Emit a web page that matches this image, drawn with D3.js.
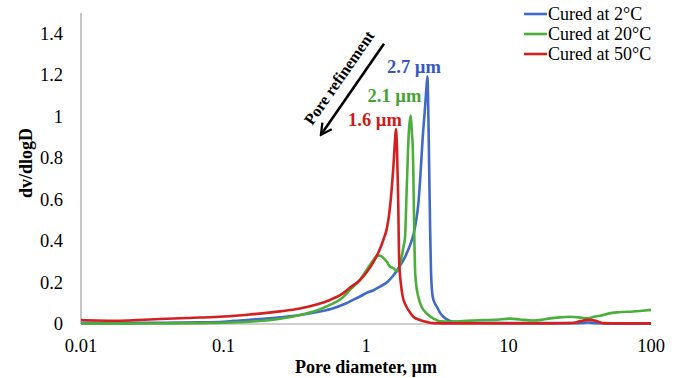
<!DOCTYPE html>
<html>
<head>
<meta charset="utf-8">
<script src="https://cdn.jsdelivr.net/npm/d3@7"></script>
<style>
  html, body { margin: 0; padding: 0; background: #fff; }
  svg { display: block; }
  text { font-family: "Liberation Serif", "Times New Roman", serif; fill: #000; }
</style>
</head>
<body>
<svg id="chart" width="678" height="378"></svg>
<script>
// ---- Data ----
const seriesNames = ["Cured at 2°C", "Cured at 20°C", "Cured at 50°C"];
const seriesColors = ["#4169C8", "#4CAF3C", "#D42020"];

const blueD = [0.01, 0.02, 0.035, 0.05, 0.068, 0.1, 0.153, 0.25, 0.344, 0.475, 0.59, 0.7, 0.81, 0.92, 1.01, 1.13, 1.25, 1.4, 1.56, 1.73, 1.9, 2.05, 2.15, 2.25, 2.33, 2.39, 2.45, 2.5, 2.58, 2.65, 2.7, 2.74, 2.78, 2.82, 2.86, 2.94, 3.04, 3.14, 3.3, 3.49, 3.89, 4.3, 4.8, 6, 10, 20, 30, 36, 42, 50, 100];
const blueV = [0.006, 0.006, 0.006, 0.007, 0.008, 0.011, 0.02, 0.032, 0.043, 0.06, 0.076, 0.095, 0.116, 0.135, 0.15, 0.163, 0.18, 0.2, 0.235, 0.28, 0.33, 0.385, 0.43, 0.5, 0.58, 0.68, 0.8, 0.9, 1.02, 1.13, 1.195, 1.0, 0.72, 0.45, 0.25, 0.13, 0.1, 0.084, 0.055, 0.035, 0.015, 0.01, 0.007, 0.006, 0.005, 0.004, 0.004, 0.007, 0.004, 0.002, 0.002];

const greenD = [0.01, 0.02, 0.04, 0.068, 0.1, 0.153, 0.25, 0.344, 0.45, 0.559, 0.68, 0.77, 0.9, 1.01, 1.13, 1.2, 1.25, 1.32, 1.4, 1.47, 1.55, 1.62, 1.66, 1.72, 1.78, 1.83, 1.88, 1.92, 2.0, 2.06, 2.1, 2.13, 2.15, 2.18, 2.21, 2.27, 2.33, 2.45, 2.67, 3.0, 3.3, 3.89, 5, 6.6, 8, 10.2, 12, 14.8, 17, 19.6, 23, 27, 31, 35.5, 40, 43.9, 50, 57.5, 65, 75, 87, 100];
const greenV = [0.002, 0.002, 0.003, 0.004, 0.006, 0.011, 0.025, 0.043, 0.065, 0.092, 0.125, 0.164, 0.21, 0.26, 0.31, 0.33, 0.33, 0.32, 0.3, 0.277, 0.27, 0.258, 0.255, 0.28, 0.325, 0.37, 0.42, 0.6, 0.93, 1.005, 0.92, 0.85, 0.72, 0.45, 0.26, 0.17, 0.13, 0.085, 0.05, 0.025, 0.013, 0.011, 0.015, 0.019, 0.02, 0.026, 0.022, 0.017, 0.02, 0.027, 0.032, 0.035, 0.032, 0.027, 0.035, 0.04, 0.05, 0.056, 0.058, 0.06, 0.064, 0.068];

const redD = [0.01, 0.013, 0.018, 0.025, 0.036, 0.05, 0.068, 0.1, 0.153, 0.25, 0.344, 0.45, 0.559, 0.68, 0.77, 0.9, 1.01, 1.13, 1.25, 1.33, 1.4, 1.46, 1.51, 1.55, 1.59, 1.62, 1.65, 1.68, 1.71, 1.76, 1.81, 1.9, 1.98, 2.15, 2.39, 2.7, 2.96, 4, 6, 10, 20, 28, 32, 36, 41, 46, 60, 100];
const redV = [0.019, 0.017, 0.016, 0.019, 0.024, 0.028, 0.031, 0.036, 0.046, 0.061, 0.075, 0.094, 0.116, 0.145, 0.175, 0.21, 0.25, 0.3, 0.36, 0.41, 0.46, 0.54, 0.64, 0.74, 0.86, 0.94, 0.85, 0.62, 0.3, 0.19, 0.132, 0.09, 0.068, 0.035, 0.019, 0.009, 0.004, 0.003, 0.003, 0.003, 0.003, 0.005, 0.014, 0.02, 0.016, 0.004, 0.003, 0.003];

const xTicks = [0.01, 0.1, 1, 10, 100];
const xTickLabels = ["0.01", "0.1", "1", "10", "100"];
const yTicks = [0, 0.2, 0.4, 0.6, 0.8, 1, 1.2, 1.4];
const yTickLabels = ["0", "0.2", "0.4", "0.6", "0.8", "1", "1.2", "1.4"];

const peakLabels = ["2.7 µm", "2.1 µm", "1.6 µm"];
const peakLabelD = [2.17, 1.585, 1.157];
const peakLabelV = [1.212, 1.072, 0.956];
const peakLabelColors = ["#3558C4", "#45A532", "#D01A1A"];

const arrowFromD = 1.337, arrowFromV = 1.352;
const arrowToD = 0.483, arrowToV = 0.913;
const arrowText = "Pore refinement";
const arrowTextD = 0.647, arrowTextV = 1.188;

const xTitle = "Pore diameter, µm";
const yTitle = "dv/dlogD";

// ---- Chart ----
const svg = d3.select("#chart");
const x = d3.scaleLog().domain([0.01, 100]).range([81, 651]);
const y = d3.scaleLinear().domain([0, 1.5]).range([324, 13]);

// axes lines
svg.append("line").attr("x1", x(0.01)).attr("x2", x(0.01)).attr("y1", y(1.5)).attr("y2", y(0))
  .attr("stroke", "#a0a0a0").attr("stroke-width", 1.2);
svg.append("line").attr("x1", x(0.01)).attr("x2", x(100)).attr("y1", y(0)).attr("y2", y(0))
  .attr("stroke", "#a0a0a0").attr("stroke-width", 1.2);

// tick labels
svg.append("g").selectAll("text").data(yTicks).join("text")
  .attr("x", 63).attr("y", d => y(d)).attr("dy", "0.33em")
  .attr("text-anchor", "end").style("font-size", "18.5px")
  .text((d, i) => yTickLabels[i]);
svg.append("g").selectAll("text").data(xTicks).join("text")
  .attr("x", d => x(d)).attr("y", 352)
  .attr("text-anchor", "middle").style("font-size", "18.5px")
  .text((d, i) => xTickLabels[i]);

// titles
svg.append("text").attr("x", x(1)).attr("y", 373).attr("text-anchor", "middle")
  .style("font-size", "18px").style("font-weight", "bold").text(xTitle);
svg.append("text").attr("transform", "translate(32,163) rotate(-90)").attr("text-anchor", "middle")
  .style("font-size", "18px").style("font-weight", "bold").text(yTitle);

// series
const allD = [blueD, greenD, redD];
const allV = [blueV, greenV, redV];
const line = d3.line().x(p => x(p[0])).y(p => y(p[1])).curve(d3.curveMonotoneX);
allD.forEach((ds, i) => {
  const pts = ds.map((d, j) => [d, allV[i][j]]);
  svg.append("path").datum(pts).attr("d", line)
    .attr("fill", "none").attr("stroke", seriesColors[i]).attr("stroke-width", 2.6)
    .attr("stroke-linejoin", "round");
});

// legend
const lg = svg.append("g");
seriesNames.forEach((n, i) => {
  const ly = 14 + i * 20;
  lg.append("line").attr("x1", 524).attr("x2", 547).attr("y1", ly).attr("y2", ly)
    .attr("stroke", seriesColors[i]).attr("stroke-width", 2.6);
  lg.append("text").attr("x", 548).attr("y", ly).attr("dy", "0.33em")
    .style("font-size", "18px").text(n);
});

// peak labels
peakLabels.forEach((t, i) => {
  svg.append("text").attr("x", x(peakLabelD[i])).attr("y", y(peakLabelV[i]))
    .attr("text-anchor", "middle").style("font-size", "18.5px").style("font-weight", "bold")
    .style("fill", peakLabelColors[i]).text(t);
});

// arrow
const defs = svg.append("defs");
defs.append("marker").attr("id", "ah").attr("viewBox", "0 0 10 10")
  .attr("refX", 8.5).attr("refY", 5).attr("markerWidth", 5.5).attr("markerHeight", 5.5)
  .attr("orient", "auto").attr("markerUnits", "strokeWidth")
  .append("path").attr("d", "M1,1 L8.5,5 L1,9").attr("fill", "none")
  .attr("stroke", "#000").attr("stroke-width", 1.6).attr("stroke-linejoin", "miter");
const ax1 = x(arrowFromD), ay1 = y(arrowFromV), ax2 = x(arrowToD), ay2 = y(arrowToV);
svg.append("line").attr("x1", ax1).attr("y1", ay1).attr("x2", ax2).attr("y2", ay2)
  .attr("stroke", "#000").attr("stroke-width", 2.6).attr("marker-end", "url(#ah)");
const ang = Math.atan2(ay1 - ay2, ax1 - ax2) * 180 / Math.PI;
svg.append("text")
  .attr("transform", `translate(${x(arrowTextD)},${y(arrowTextV)}) rotate(${ang})`)
  .attr("text-anchor", "middle").attr("dy", "0.35em")
  .style("font-size", "16px").style("font-weight", "bold").text(arrowText);
</script>
</body>
</html>
